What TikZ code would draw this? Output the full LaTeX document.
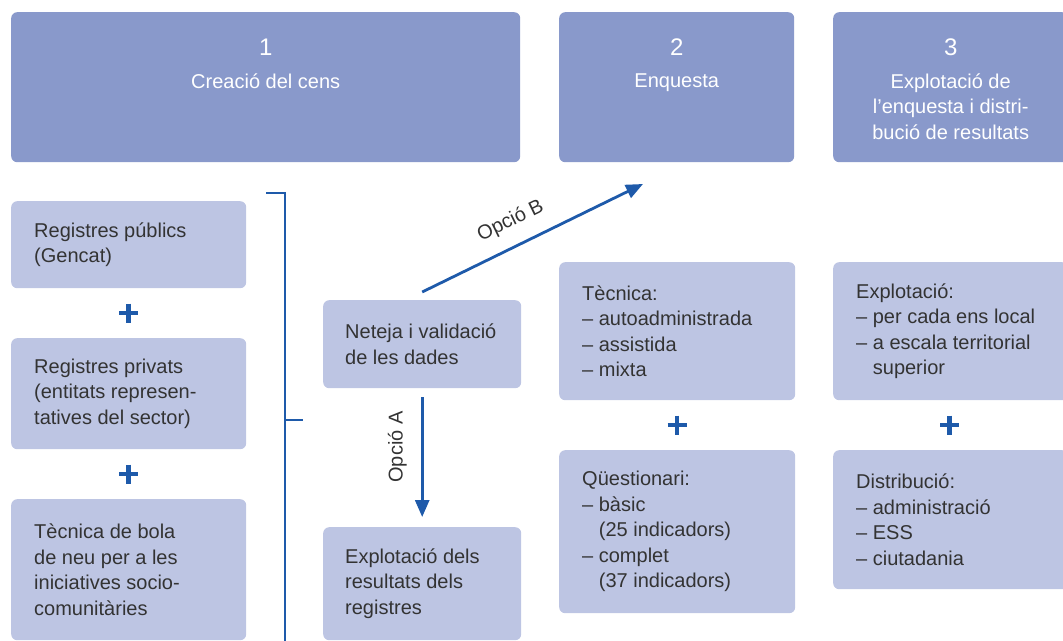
\documentclass[tikz,border=0pt]{standalone}
\usepackage{fontspec}
\setmainfont{Liberation Sans}
\usetikzlibrary{arrows.meta}
\definecolor{hdr}{HTML}{8999CB}
\definecolor{lbox}{HTML}{BDC5E3}
\definecolor{dblue}{HTML}{1E5AAA}
\definecolor{txt}{HTML}{333333}
\begin{document}
\begin{tikzpicture}[x=1pt,y=-1pt,
  hbox/.style={fill=hdr, rounded corners=6pt, inner sep=0pt, anchor=north west},
  cbox/.style={fill=lbox, rounded corners=6pt, inner sep=0pt, anchor=north west},
  btxt/.style={text=txt, align=left, inner sep=0pt, anchor=west, font=\fontsize{20}{25.5}\selectfont},
  htxt/.style={text=white, align=center, inner sep=0pt, anchor=north, font=\fontsize{20}{25.5}\selectfont},
  hnum/.style={text=white, inner sep=0pt, anchor=base, font=\fontsize{24}{28}\selectfont},
  arr/.style={draw=dblue, line width=2.8pt, -{Triangle[length=17pt,width=14pt]}},
  brk/.style={draw=dblue, line width=2.6pt},
  plusmark/.style={draw=dblue, line width=4.6pt},
  lbl/.style={text=txt, inner sep=0pt, font=\fontsize{20}{24}\selectfont}
]
\useasboundingbox (0,0) rectangle (1063,640);

% headers
\node[hbox, minimum width=509pt, minimum height=150pt] (h1) at (11,12) {};
\node[hbox, minimum width=235pt, minimum height=150pt] (h2) at (559,12) {};
\node[hbox, minimum width=235pt, minimum height=150pt] (h3) at (833,12) {};
\node[hnum] (h1n) at ([yshift=-43pt]h1.north) {1};
\node[hnum] (h2n) at ([yshift=-43pt]h2.north) {2};
\node[hnum] (h3n) at ([yshift=-43pt]h3.north) {3};
\node[htxt] (h1t) at ([yshift=-61.5pt]h1.north) {Creació del cens};
\node[htxt] (h2t) at ([yshift=-61.5pt]h2.north) {Enquesta};
\node[htxt] (h3t) at ([yshift=-61.5pt]h3.north) {Explotació de\\l’enquesta i distri-\\bució de resultats};

% left column
\node[cbox, minimum width=235pt, minimum height=87pt] (l1) at (11,201) {};
\node[btxt] (l1t) at ([xshift=23pt]l1.west) {Registres públics\\(Gencat)};
\node[cbox, minimum width=235pt, minimum height=111pt] (l2) at (11,338) {};
\node[btxt] (l2t) at ([xshift=23pt]l2.west) {Registres privats\\(entitats represen-\\tatives del sector)};
\node[cbox, minimum width=235pt, minimum height=141pt] (l3) at (11,499) {};
\node[btxt] (l3t) at ([xshift=23pt]l3.west) {Tècnica de bola\\de neu per a les\\iniciatives socio-\\comunitàries};

\draw[plusmark] (128.5,303.5) -- (128.5,322.5) (119,313) -- (138,313);
\draw[plusmark] (128.5,464.5) -- (128.5,483.5) (119,474) -- (138,474);

% bracket
\draw[brk] (266,193) -- (285,193) -- (285,648);
\draw[brk] (285,420) -- (303,420);

% middle column
\node[cbox, minimum width=198pt, minimum height=88pt] (net) at (323,300) {};
\node[btxt] (nett) at ([xshift=22pt]net.west) {Neteja i validació\\de les dades};
\node[cbox, minimum width=198pt, minimum height=113pt] (exr) at (323,527) {};
\node[btxt] (exrt) at ([xshift=22pt]exr.west) {Explotació dels\\resultats dels\\registres};

\draw[arr] ([yshift=-9pt]net.south) -- ([yshift=10pt]exr.north);
\node[lbl, rotate=90, anchor=south] (optA) at (407,447) {Opció A};

\coordinate (bTip) at (643,184);
\draw[arr] ([yshift=8pt]net.north) -- (bTip)
  node[lbl, pos=0.45, sloped, above=14pt] (optB) {Opció B};

% column 2
\node[cbox, minimum width=236pt, minimum height=138pt] (tec) at (559,262) {};
\node[btxt] (tect) at ([xshift=23pt]tec.west) {Tècnica:\\– autoadministrada\\– assistida\\– mixta};
\node[cbox, minimum width=236pt, minimum height=163pt] (qst) at (559,450) {};
\node[btxt] (qstt) at ([xshift=23pt]qst.west) {Qüestionari:\\– bàsic\\\phantom{– }(25 indicadors)\\– complet\\\phantom{– }(37 indicadors)};
\draw[plusmark] (677,415.5) -- (677,434.5) (667.5,425) -- (686.5,425);

% column 3
\node[cbox, minimum width=235pt, minimum height=138pt] (exp) at (833,262) {};
\node[btxt] (expt) at ([xshift=23pt]exp.west) {Explotació:\\– per cada ens local\\– a escala territorial\\\phantom{– }superior};
\node[cbox, minimum width=235pt, minimum height=139pt] (dis) at (833,450) {};
\node[btxt] (dist) at ([xshift=23pt]dis.west) {Distribució:\\– administració\\– ESS\\– ciutadania};
\draw[plusmark] (949.5,415.5) -- (949.5,434.5) (940,425) -- (959,425);
\end{tikzpicture}
\end{document}
